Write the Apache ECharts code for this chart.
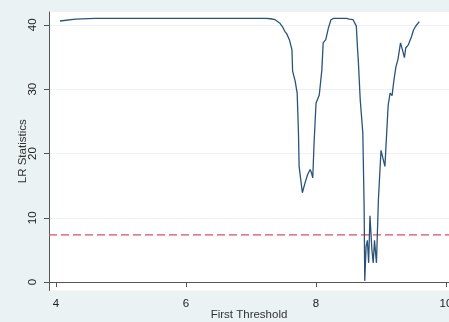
<!DOCTYPE html>
<html><head><meta charset="utf-8">
<script src="https://cdn.jsdelivr.net/npm/echarts@6/dist/echarts.min.js"></script>
<style>html,body{margin:0;padding:0;background:#eaf2f3;}#c{width:449px;height:322px;}</style>
</head><body><div id="c"></div>
<script>
var thresholds = [4.06,4.09,4.3,4.6,5.0,5.5,6.0,6.5,7.0,7.23,7.30,7.37,7.44,7.49,7.52,7.55,7.59,7.63,7.64,7.68,7.71,7.73,7.74,7.79,7.83,7.87,7.91,7.93,7.95,7.97,8.00,8.05,8.09,8.11,8.15,8.19,8.23,8.27,8.35,8.42,8.45,8.47,8.51,8.57,8.62,8.64,8.65,8.68,8.72,8.74,8.75,8.77,8.79,8.81,8.83,8.86,8.88,8.90,8.93,8.96,9.00,9.03,9.06,9.11,9.14,9.17,9.20,9.23,9.26,9.28,9.30,9.33,9.36,9.38,9.42,9.45,9.47,9.50,9.54,9.59];
var lrStats = [40.6,40.8,40.9,41.0,41.0,41.0,41.0,41.0,41.0,41.0,40.95,40.8,40.3,39.6,39.0,38.6,37.7,36.1,32.8,31.2,29.4,23.2,18.0,13.9,15.4,16.7,17.5,17.0,16.2,21.6,27.8,29.1,33.0,37.2,37.7,39.5,40.8,41.0,41.0,41.0,40.7,41.0,40.9,40.8,39.8,36.1,34.6,28.4,23.2,11.8,0.2,5.5,6.5,3.0,10.3,5.0,3.0,6.5,3.0,12.8,20.5,20.8,18.0,27.5,29.4,29.0,31.5,33.5,34.6,34.3,37.2,36.1,34.9,36.4,36.9,37.2,38.2,39.2,39.9,40.5];
var xTicks = [4,6,8,10];
var yTicks = [0,10,20,30,40];
var xRange = [3.892, 10.046];
var yRange = [-1.3, 42];
var criticalValue = 7.35;

var data = thresholds.map(function(x,i){return [x, lrStats[i]];});
var critData = xRange.map(function(x){return [x, criticalValue];});
var chart = echarts.init(document.getElementById('c'), null, {renderer:'canvas'});
var font = 'Liberation Sans, Arial, sans-serif';
chart.setOption({
  animation:false,
  backgroundColor:'#eaf2f3',
  grid:{left:49,right:0,top:12,bottom:31.5,show:true,backgroundColor:'#ffffff',borderWidth:0,outerBoundsMode:'none',containLabel:false},
  xAxis:{type:'value',min:xRange[0],max:xRange[1],
    name:'First Threshold',nameLocation:'middle',nameGap:18.5,nameMoveOverlap:false,
    nameTextStyle:{fontFamily:font,fontSize:11.5,color:'#333'},
    axisLine:{show:true,lineStyle:{color:'#555',width:1}},
    axisTick:{show:true,length:5,customValues:xTicks,lineStyle:{color:'#555'}},
    axisLabel:{customValues:xTicks,margin:7,fontFamily:font,fontSize:11.5,color:'#222',showMinLabel:true,showMaxLabel:true},
    splitLine:{show:false}},
  yAxis:{type:'value',min:yRange[0],max:yRange[1],
    name:'LR Statistics',nameLocation:'middle',nameGap:20,nameRotate:90,nameMoveOverlap:false,
    nameTextStyle:{fontFamily:font,fontSize:11.5,color:'#333'},
    axisLine:{show:true,lineStyle:{color:'#555',width:1}},
    axisTick:{show:true,length:5,customValues:yTicks,lineStyle:{color:'#555'}},
    axisLabel:{customValues:yTicks,rotate:90,margin:10,fontFamily:font,fontSize:11.5,color:'#222'},
    splitLine:{show:true,lineStyle:{color:'#eaf2f3',width:1}}},
  series:[
    {type:'line',data:critData,showSymbol:false,symbol:'none',silent:true,
     lineStyle:{color:'#d4506a',type:[8,4],width:1.2},z:1},
    {type:'line',data:data,showSymbol:false,symbol:'none',
     lineStyle:{color:'#2b5379',width:1.3},z:2}]
});
</script></body></html>
